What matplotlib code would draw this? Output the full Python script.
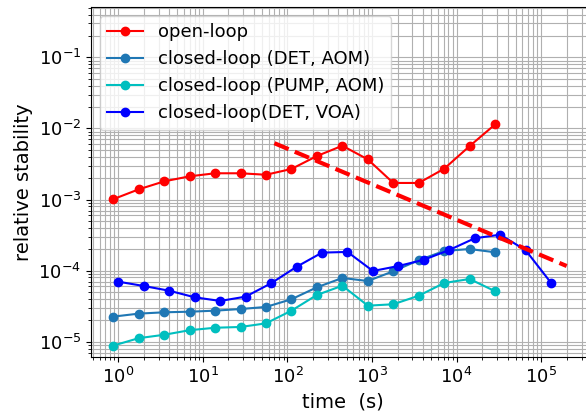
import numpy as np
import matplotlib
matplotlib.use("Agg")
import matplotlib.pyplot as plt

# averaging times (s)
tau_aom = [0.87 * 2**k for k in range(16)]
tau_voa = [2**k for k in range(18)]

open_loop = [1.01e-3, 1.39e-3, 1.80e-3, 2.12e-3, 2.34e-3, 2.34e-3, 2.23e-3, 2.69e-3,
             4.09e-3, 5.71e-3, 3.67e-3, 1.71e-3, 1.71e-3, 2.71e-3, 5.65e-3, 1.14e-2]
det_aom = [2.25e-5, 2.48e-5, 2.59e-5, 2.64e-5, 2.73e-5, 2.88e-5, 3.08e-5, 3.95e-5,
           5.82e-5, 7.87e-5, 7.14e-5, 9.78e-5, 1.40e-4, 1.89e-4, 2.01e-4, 1.81e-4]
pump_aom = [8.8e-6, 1.12e-5, 1.25e-5, 1.45e-5, 1.57e-5, 1.61e-5, 1.81e-5, 2.73e-5,
            4.54e-5, 6.13e-5, 3.21e-5, 3.36e-5, 4.43e-5, 6.69e-5, 7.62e-5, 5.12e-5]
det_voa = [6.98e-5, 6.07e-5, 5.21e-5, 4.21e-5, 3.74e-5, 4.30e-5, 6.63e-5, 1.13e-4,
           1.79e-4, 1.83e-4, 9.87e-5, 1.16e-4, 1.42e-4, 1.95e-4, 2.85e-4, 3.20e-4,
           1.93e-4, 6.69e-5]

# t^-1/2 guide line
guide_t = [70, 2e5]
guide_y = [6.2e-3, 1.16e-4]

fig = plt.figure(figsize=(5.86, 4.16), dpi=100)
# right edge of the axes sits just past the figure edge, like the reference
ax = fig.add_axes([0.155, 0.142, 0.86, 0.841])

ax.loglog(tau_aom, open_loop, 'o-', color='r', ms=6, lw=1.5, label='open-loop')
ax.loglog(tau_aom, det_aom, 'o-', color='#1f77b4', ms=6, lw=1.5, label='closed-loop (DET, AOM)')
ax.loglog(tau_aom, pump_aom, 'o-', color='c', ms=6, lw=1.5, label='closed-loop (PUMP, AOM)')
ax.loglog(tau_voa, det_voa, 'o-', color='b', ms=6, lw=1.5, label='closed-loop(DET, VOA)')
ax.loglog(guide_t, guide_y, '--', color='r', lw=3)

ax.set_xlim(0.473, 4.3e5)
ax.set_ylim(6.1e-6, 0.51)
ax.grid(True, which='both')
ax.set_xlabel('time  (s)', fontsize=14)
ax.set_ylabel('relative stability', fontsize=14)
ax.tick_params(labelsize=13)
ax.legend(loc='upper left', fontsize=13)

fig.savefig('out.png', dpi=100)
